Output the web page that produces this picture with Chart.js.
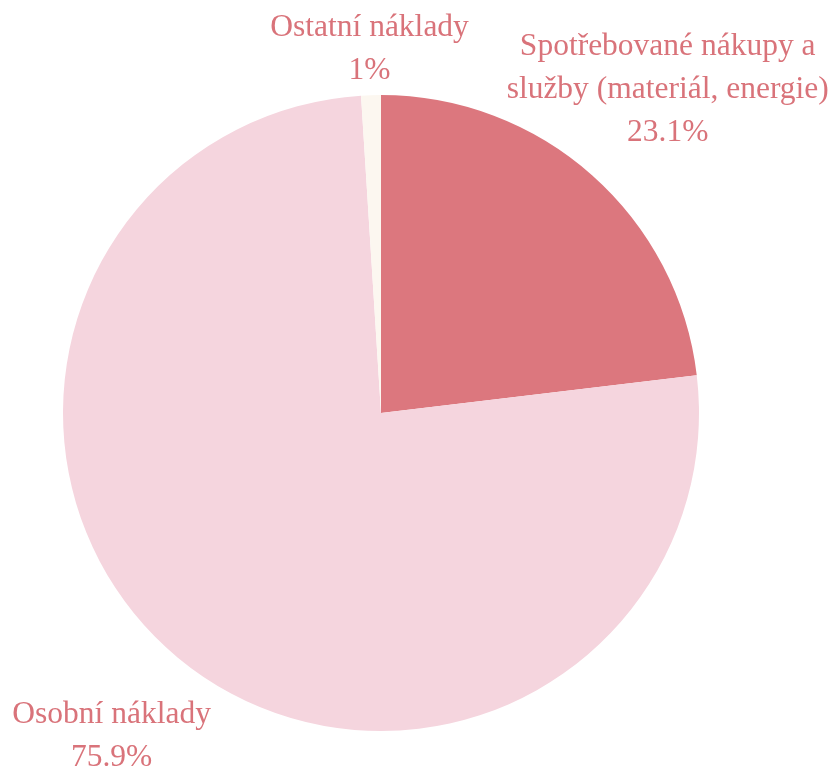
<!DOCTYPE html>
<html>
<head>
<meta charset="utf-8">
<script src="https://cdn.jsdelivr.net/npm/chart.js@4/dist/chart.umd.min.js"></script>
<style>
html,body{margin:0;padding:0;background:#fff;}
#wrap{width:839px;height:775px;position:relative;}
</style>
</head>
<body>
<div id="wrap"><canvas id="c"></canvas></div>
<script>
const categories = [
  ["Spotřebované nákupy a", "služby (materiál, energie)"],
  ["Osobní náklady"],
  ["Ostatní náklady"]
];
const values = [23.1, 75.9, 1];
const valueLabels = ["23.1%", "75.9%", "1%"];
const colors = ["#dc777e", "#f5d5de", "#fcf7f0"];
const labelOffsets = [114, 103, 46];

const labelPlugin = {
  id: 'outLabels',
  afterDraw(chart) {
    const ctx = chart.ctx;
    const meta = chart.getDatasetMeta(0);
    ctx.save();
    ctx.fillStyle = '#d9737a';
    ctx.font = '31.5px "Liberation Serif", "DejaVu Serif", serif';
    ctx.textAlign = 'center';
    ctx.textBaseline = 'middle';
    const lh = 43;
    meta.data.forEach((arc, i) => {
      const p = arc.getProps(['x','y','startAngle','endAngle','outerRadius'], true);
      const mid = (p.startAngle + p.endAngle) / 2;
      const d = p.outerRadius + labelOffsets[i];
      const cx = p.x + Math.cos(mid) * d;
      const cy = p.y + Math.sin(mid) * d;
      const lines = categories[i].concat([valueLabels[i]]);
      const y0 = cy - (lines.length - 1) * lh / 2;
      lines.forEach((t, k) => ctx.fillText(t, cx, y0 + k * lh));
    });
    ctx.restore();
  }
};

new Chart(document.getElementById('c'), {
  type: 'pie',
  data: {
    labels: categories.map(c => c.join(' ')),
    datasets: [{
      data: values,
      backgroundColor: colors,
      borderWidth: 0
    }]
  },
  options: {
    responsive: true,
    maintainAspectRatio: false,
    animation: false,
    layout: { padding: { left: 63, right: 140, top: 95, bottom: 44 } },
    plugins: { legend: { display: false }, tooltip: { enabled: false } }
  },
  plugins: [labelPlugin]
});
</script>
</body>
</html>
